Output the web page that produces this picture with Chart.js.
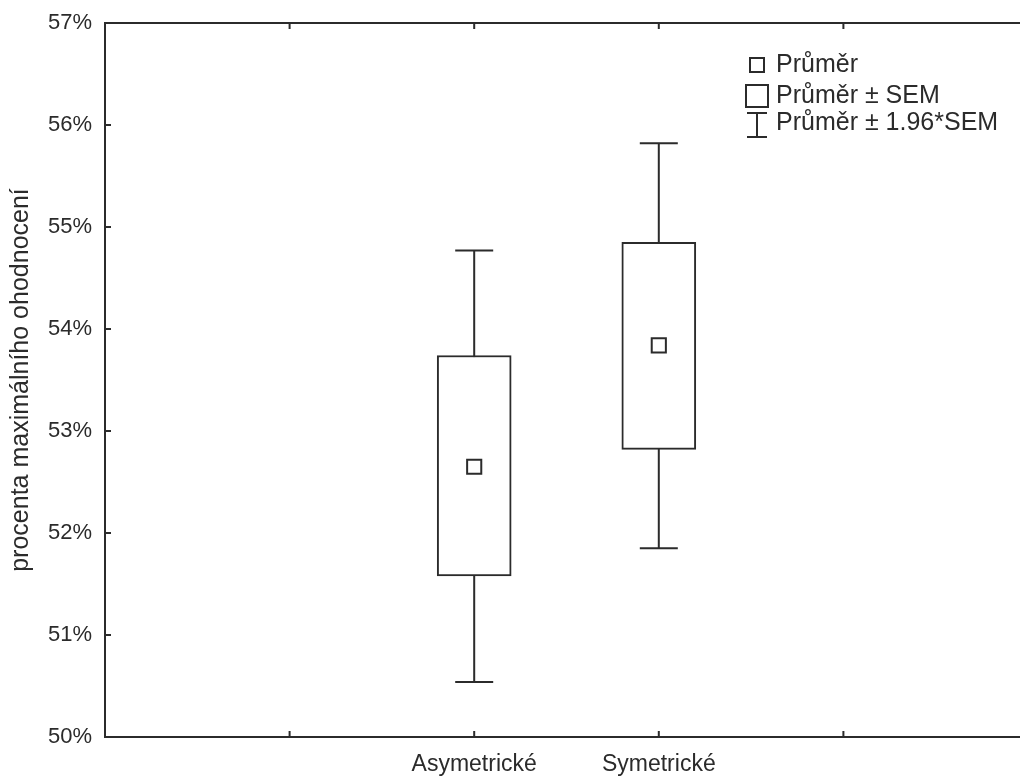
<!DOCTYPE html>
<html>
<head>
<meta charset="utf-8">
<script src="https://cdn.jsdelivr.net/npm/chart.js@4"></script>
<style>
  html, body { margin: 0; padding: 0; background: #fff; overflow: hidden; }
  canvas { display: block; }
</style>
</head>
<body>
<canvas id="chart" width="1040" height="776"></canvas>
<script>
// axis slots: the two groups sit on the middle ticks, the rest stay empty
const X_SLOTS = ['', '', 'Asymetrické', 'Symetrické', '', ''];
const CATEGORIES = ['Asymetrické', 'Symetrické'];
const MEANS = [52.65, 53.84];
const SEM_LOW = [51.58, 52.82];
const SEM_HIGH = [53.74, 54.85];
const CI_LOW = [50.54, 51.85];
const CI_HIGH = [54.77, 55.82];
const Y_MIN = 50, Y_MAX = 57;

const FONT = "'Liberation Sans', Arial, sans-serif";
const INK = '#2b2b2b';
const LEGEND_ITEMS = ['Průměr', 'Průměr ± SEM', 'Průměr ± 1.96*SEM'];

// frame + inward ticks, and the whiskers behind the boxes
const framePlugin = {
  id: 'frame',
  beforeDatasetsDraw(chart) {
    const {ctx, chartArea: a, scales: {x, y}} = chart;
    ctx.save();
    ctx.strokeStyle = INK;
    ctx.lineWidth = 2;
    CATEGORIES.forEach((c, i) => {
      const px = x.getPixelForValue(X_SLOTS.indexOf(c));
      const top = y.getPixelForValue(CI_HIGH[i]);
      const bot = y.getPixelForValue(CI_LOW[i]);
      ctx.beginPath();
      ctx.moveTo(px, top); ctx.lineTo(px, bot);
      ctx.moveTo(px - 19, top); ctx.lineTo(px + 19, top);
      ctx.moveTo(px - 19, bot); ctx.lineTo(px + 19, bot);
      ctx.stroke();
    });
    ctx.restore();
  },
  afterDraw(chart) {
    const {ctx, chartArea: a, scales: {x, y}} = chart;
    ctx.save();
    ctx.strokeStyle = INK;
    ctx.lineWidth = 2;
    ctx.beginPath();
    ctx.moveTo(a.right + 20, a.top); ctx.lineTo(a.left, a.top);
    ctx.lineTo(a.left, a.bottom); ctx.lineTo(a.right + 20, a.bottom);
    ctx.stroke();
    ctx.beginPath();
    for (let i = 1; i < X_SLOTS.length - 1; i++) {
      const px = x.getPixelForValue(i);
      ctx.moveTo(px, a.top); ctx.lineTo(px, a.top + 6);
      ctx.moveTo(px, a.bottom); ctx.lineTo(px, a.bottom - 6);
    }
    for (let v = Y_MIN + 1; v < Y_MAX; v++) {
      const py = y.getPixelForValue(v);
      ctx.moveTo(a.left, py); ctx.lineTo(a.left + 6, py);
    }
    ctx.stroke();

    // legend, top right
    const lx = 757, ly = [65, 96, 125];
    ctx.fillStyle = '#fff';
    ctx.strokeRect(lx - 7, ly[0] - 7, 14, 14);
    ctx.strokeRect(lx - 11, ly[1] - 11, 22, 22);
    ctx.beginPath();
    ctx.moveTo(lx - 10, ly[2] - 12); ctx.lineTo(lx + 10, ly[2] - 12);
    ctx.moveTo(lx, ly[2] - 12); ctx.lineTo(lx, ly[2] + 12);
    ctx.moveTo(lx - 10, ly[2] + 12); ctx.lineTo(lx + 10, ly[2] + 12);
    ctx.stroke();
    ctx.fillStyle = INK;
    ctx.font = '25px ' + FONT;
    ctx.textBaseline = 'middle';
    ctx.textAlign = 'left';
    LEGEND_ITEMS.forEach((t, i) => ctx.fillText(t, 776, ly[i] - (i === 2 ? 2 : 0)));
    ctx.restore();
  }
};

const chart = new Chart(document.getElementById('chart'), {
  data: {
    labels: X_SLOTS,
    datasets: [
      {
        type: 'scatter',
        label: 'Průměr',
        data: CATEGORIES.map((c, i) => ({x: c, y: MEANS[i]})),
        pointStyle: 'rect',
        pointRadius: 10,
        pointBackgroundColor: '#fff',
        pointBorderColor: INK,
        pointBorderWidth: 2,
        order: 0,
      },
      {
        type: 'bar',
        label: 'Průměr ± SEM',
        data: CATEGORIES.map((c, i) => ({x: c, y: [SEM_LOW[i], SEM_HIGH[i]]})),
        backgroundColor: '#fff',
        borderColor: INK,
        borderWidth: 2,
        borderSkipped: false,
        barThickness: 74,
        order: 1,
      },
    ]
  },
  options: {
    responsive: false,
    animation: false,
    layout: {padding: {top: 23, right: 10, left: 0, bottom: 0}},
    plugins: {legend: {display: false}, tooltip: {enabled: false}},
    scales: {
      x: {
        type: 'category',
        offset: false,
        grid: {display: false, drawTicks: false},
        border: {display: false},
        ticks: {
          autoSkip: false, maxRotation: 0, padding: 14, color: INK,
          font: {family: FONT, size: 23},
        },
        afterFit(s) { s.height = 39; s.paddingLeft = 0; s.paddingRight = 0; },
      },
      y: {
        min: Y_MIN, max: Y_MAX,
        grid: {display: false, drawTicks: false},
        border: {display: false},
        ticks: {
          stepSize: 1, padding: 13, color: INK,
          font: {family: FONT, size: 22},
          callback: v => v + '%',
        },
        title: {
          display: true, text: 'procenta maximálního ohodnocení', color: INK,
          font: {family: FONT, size: 25}, padding: {top: 6, bottom: 0},
        },
        afterFit(s) { s.width = 105; s.paddingTop = 0; s.paddingBottom = 0; },
      }
    }
  },
  plugins: [framePlugin]
});
</script>
</body>
</html>
